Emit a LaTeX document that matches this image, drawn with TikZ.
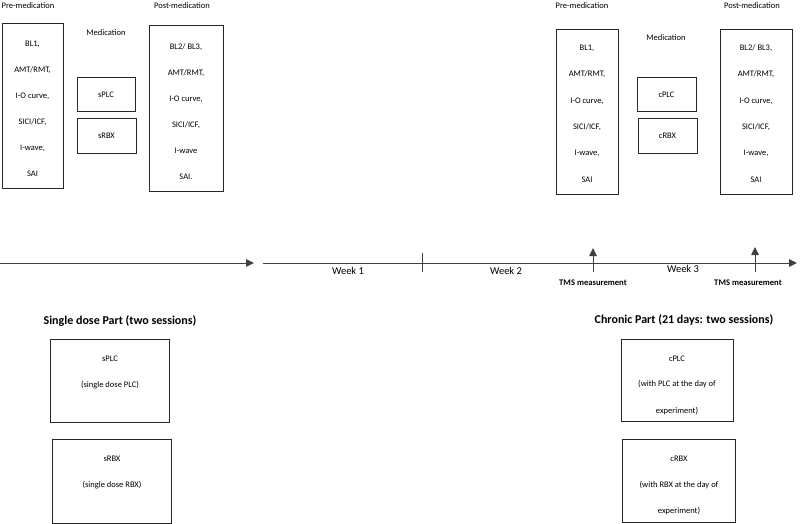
\documentclass[tikz,border=0pt]{standalone}
\usepackage{fontspec}
\setmainfont{Carlito}
\usetikzlibrary{arrows.meta}

\begin{document}
\begin{tikzpicture}[x=1pt,y=-1pt,
	lbl/.style={font=\fontsize{8.5}{10}\selectfont, inner sep=0pt},
	wklbl/.style={font=\fontsize{10.5}{12}\selectfont, inner sep=0pt},
	parthead/.style={font=\bfseries\fontsize{12}{14}\selectfont, inner sep=0pt},
	tmslbl/.style={font=\bfseries\fontsize{8.6}{10}\selectfont, inner sep=0pt},
	box/.style={draw=black!85, line width=1pt, inner sep=0pt},
	axis/.style={draw=black!75, line width=0.9pt},
	tip/.style={-{Triangle[length=8pt,width=7.5pt]}}]

	\useasboundingbox (0,0) rectangle (800,524);

	\node[lbl] (sPre) at (28,6) {Pre-medication};
	\node[lbl] (sMed) at (106,33) {Medication};
	\node[lbl] (sPost) at (182,6) {Post-medication};
	\node[lbl] (cPre) at (582,6) {Pre-medication};
	\node[lbl] (cMed) at (666,38) {Medication};
	\node[lbl] (cPost) at (752,6) {Post-medication};

	\node[box, minimum width=61, minimum height=164] (sPreBox) at (32.5,106) {};
	\node[box, minimum width=74, minimum height=165] (sPostBox) at (186,108.5) {};
	\node[box, minimum width=62, minimum height=164] (cPreBox) at (587,112) {};
	\node[box, minimum width=72, minimum height=164] (cPostBox) at (756,112) {};

	\foreach \t [count=\i] in {{BL1,},{AMT/RMT,},{I-O curve,},{SICI/ICF,},{I-wave,},SAI}
		\node[lbl] (sPre-\i) at (32.5,{44+26*(\i-1)}) {\t};
	\foreach \t [count=\i] in {{BL2/ BL3,},{AMT/RMT,},{I-O curve,},{SICI/ICF,},I-wave,SAI.}
		\node[lbl] (sPost-\i) at (186,{47+26*(\i-1)}) {\t};
	\foreach \t [count=\i] in {{BL1,},{AMT/RMT,},{I-O curve,},{SICI/ICF,},{I-wave,},SAI}
		\node[lbl] (cPre-\i) at (587,{48+26.4*(\i-1)}) {\t};
	\foreach \t [count=\i] in {{BL2/ BL3,},{AMT/RMT,},{I-O curve,},{SICI/ICF,},{I-wave,},SAI}
		\node[lbl] (cPost-\i) at (756,{48+26.4*(\i-1)}) {\t};

	\node[box, lbl, minimum width=58, minimum height=34] (sPLC) at (106,95) {sPLC};
	\node[box, lbl, minimum width=59, minimum height=34] (sRBX) at (106.5,136) {sRBX};
	\node[box, lbl, minimum width=59, minimum height=34] (cPLC) at (666.5,95) {cPLC};
	\node[box, lbl, minimum width=59, minimum height=34] (cRBX) at (667.5,136) {cRBX};

	\coordinate (ax1s) at (0,263);
	\coordinate (ax1e) at (254,263);
	\coordinate (ax2s) at (263,263);
	\coordinate (ax2e) at (797,263);
	\draw[axis, tip] (ax1s) -- (ax1e);
	\draw[axis, tip] (ax2s) -- (ax2e);
	\coordinate (tickT) at (422,253);
	\coordinate (tickB) at (422,272);
	\draw[axis] (tickT) -- (tickB);

	\node[wklbl] (wk1) at (348,271) {Week 1};
	\node[wklbl] (wk2) at (506,271) {Week 2};
	\node[wklbl] (wk3) at (683,269) {Week 3};

	\coordinate (tms1b) at (593,272);
	\coordinate (tms1t) at (593,248);
	\coordinate (tms2b) at (755,272);
	\coordinate (tms2t) at (755,247);
	\draw[axis, tip] (tms1b) -- (tms1t);
	\draw[axis, tip] (tms2b) -- (tms2t);
	\node[tmslbl] (tms1) at (593,283) {TMS measurement};
	\node[tmslbl] (tms2) at (748,283) {TMS measurement};

	\node[parthead] (sHead) at (120,321) {Single dose Part (two sessions)};
	\node[parthead] (cHead) at (684,320) {Chronic Part (21 days: two sessions)};

	\node[box, minimum width=119, minimum height=83] (sPLCbig) at (109.5,380.5) {};
	\node[box, minimum width=119, minimum height=84] (sRBXbig) at (111.5,481) {};
	\node[box, minimum width=112, minimum height=82] (cPLCbig) at (677,380) {};
	\node[box, minimum width=113, minimum height=83] (cRBXbig) at (678.5,480.5) {};

	\node[lbl] (sPLC-1) at (110,359) {sPLC};
	\node[lbl] (sPLC-2) at (110,385) {(single dose PLC)};
	\node[lbl] (sRBX-1) at (112,459) {sRBX};
	\node[lbl] (sRBX-2) at (112,485) {(single dose RBX)};
	\node[lbl] (cPLC-1) at (677,359) {cPLC};
	\node[lbl] (cPLC-2) at (677,384) {(with PLC at the day of};
	\node[lbl] (cPLC-3) at (677,411) {experiment)};
	\node[lbl] (cRBX-1) at (679,459) {cRBX};
	\node[lbl] (cRBX-2) at (679,485) {(with RBX at the day of};
	\node[lbl] (cRBX-3) at (679,511) {experiment)};

\end{tikzpicture}
\end{document}
